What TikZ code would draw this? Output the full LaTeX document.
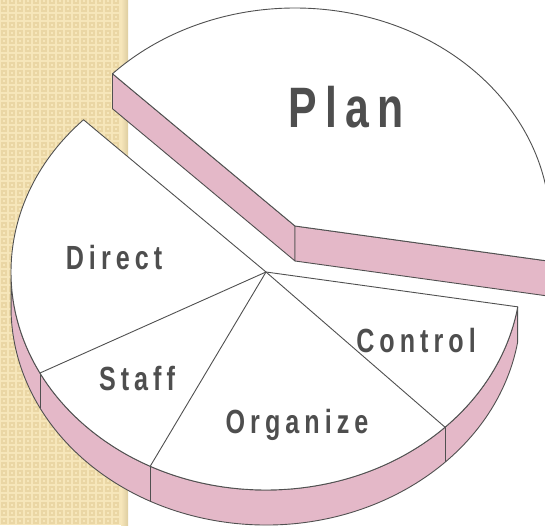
\documentclass[tikz,border=0pt]{standalone}
\usepackage{fontspec}
\usetikzlibrary{calc}
\newfontfamily\pielabel[FakeStretch=0.75,LetterSpace=15]{Liberation Sans}

\definecolor{stripbeige}{RGB}{246,230,186}
\definecolor{stripdot}{RGB}{234,214,164}
\definecolor{stripshade}{RGB}{222,205,160}
\definecolor{sidepink}{RGB}{228,184,200}
\definecolor{edgegray}{RGB}{80,80,80}
\definecolor{labelgray}{RGB}{78,78,78}

\tikzset{
  edge/.style={draw=edgegray, line width=0.9pt, line join=round},
  side/.style={edge, fill=sidepink},
  face/.style={edge, fill=white},
  pielbl/.style={text=labelgray, inner sep=0pt, anchor=base},
  biglbl/.style={pielbl, font=\pielabel\bfseries\fontsize{57}{60}\selectfont},
  smalllbl/.style={pielbl, font=\pielabel\bfseries\fontsize{33.5}{36}\selectfont}
}

\begin{document}
\begin{tikzpicture}[x=1pt,y=1pt]
\useasboundingbox (0,0) rectangle (545,525);
\clip (0,0) rectangle (545,525);

% backdrop strip
\fill [stripbeige] (0,0) rectangle (128,525);
\foreach \i in {0,...,15}
  \foreach \j in {0,...,65}
    \draw [stripdot, line width=1.2pt] (\i*8+2,\j*8+2) rectangle ++(4,4);
\shade [left color=stripbeige, right color=stripshade] (121,0) rectangle (128,525);

% Plan slice, pulled out
\coordinate (pv) at (295,299);
\coordinate (ps) at ($(pv)+(350.8:255 and 218)$);
\coordinate (pe) at ($(pv)+(135.7:255 and 218)$);
\draw [side] (pe) -- (pv) -- ++(0,-35) -- ($(pe)+(0,-35)$) -- cycle;
\draw [side] (pv) -- (ps) -- ++(0,-35) -- ($(pv)+(0,-35)$) -- cycle;
\draw [face] (pv) -- (ps) arc[start angle=350.8, end angle=495.7, x radius=255, y radius=218] -- cycle;

% rest of the pie
\coordinate (c) at (266,253);
\draw [side] ($(c)+(182:255 and 218)$)
  arc[start angle=182, end angle=350.8, x radius=255, y radius=218] -- ++(0,-35)
  arc[start angle=350.8, end angle=182, x radius=255, y radius=218] -- cycle;
\foreach \a in {207.6,243,314.6,350.8}
  \draw [edge] ($(c)+(\a:255 and 218)$) -- ++(0,-35);
\draw [face] (c) -- ($(c)+(135.7:255 and 218)$)
  arc[start angle=135.7, end angle=350.8, x radius=255, y radius=218] -- cycle;
\foreach \a in {207.6,243,314.6}
  \draw [edge] (c) -- ($(c)+(\a:255 and 218)$);

% labels
\node [biglbl] (plan) at (346,397) {Plan};
\node [smalllbl] (direct) at (114,255) {Direct};
\node [smalllbl] (staff) at (137,135) {Staff};
\node [smalllbl] (organize) at (297,92) {Organize};
\node [smalllbl] (control) at (416,173) {Control};
\end{tikzpicture}
\end{document}
